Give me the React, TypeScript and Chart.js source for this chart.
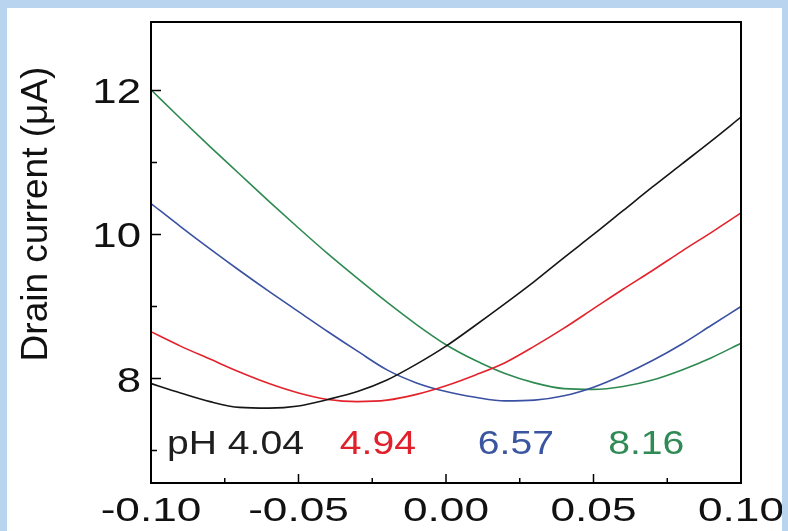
import React, { useEffect, useRef } from "react";
import { Chart, registerables } from "chart.js";

Chart.register(...registerables);

// Gate voltage sweep (V)
const gateVoltage = [
  -0.1, -0.09, -0.08, -0.07, -0.06, -0.05, -0.04, -0.03, -0.02, -0.01, 0.0,
  0.01, 0.02, 0.03, 0.04, 0.05, 0.06, 0.07, 0.08, 0.09, 0.1,
];

// Drain current (µA) for each buffer pH
const currentPH404 = [
  7.93, 7.8, 7.68, 7.6, 7.59, 7.62, 7.71, 7.82, 7.98, 8.2, 8.45,
  8.74, 9.04, 9.35, 9.68, 10.0, 10.33, 10.66, 10.98, 11.3, 11.63,
];
const currentPH494 = [
  8.65, 8.45, 8.27, 8.09, 7.93, 7.8, 7.71, 7.68, 7.7, 7.78, 7.9,
  8.05, 8.22, 8.45, 8.7, 8.97, 9.24, 9.5, 9.77, 10.03, 10.3,
];
const currentPH657 = [
  10.43, 10.11, 9.8, 9.5, 9.21, 8.93, 8.65, 8.38, 8.12, 7.94, 7.82,
  7.74, 7.69, 7.7, 7.76, 7.88, 8.05, 8.25, 8.48, 8.74, 9.0,
];
const currentPH816 = [
  12.01, 11.61, 11.22, 10.84, 10.46, 10.09, 9.73, 9.39, 9.06, 8.75, 8.47,
  8.25, 8.07, 7.94, 7.86, 7.85, 7.89, 7.98, 8.12, 8.29, 8.49,
];

const phLabels = ["pH 4.04", "4.94", "6.57", "8.16"];

const xMajorTicks = [-0.1, -0.05, 0, 0.05, 0.1];
const xTickLabels = ["-0.10", "-0.05", "0.00", "0.05", "0.10"];
const xMinorTicks = [-0.075, -0.025, 0.025, 0.075];
const yMajorTicks = [8, 10, 12];
const yTickLabels = ["8", "10", "12"];
const yMinorTicks = [7, 9, 11];

const yTitle = "Drain current (μA)";

const lineColors = ["#161616", "#e3222c", "#3a50a2", "#2e8a50"];
const labelColors = ["#1e1e1e", "#e0202a", "#3b56a0", "#2f8a55"];

const FONT = "'Liberation Sans', Arial, sans-serif";

function stretchedText(
  ctx: CanvasRenderingContext2D,
  text: string,
  x: number,
  y: number,
  size: number,
  sx: number,
  align: CanvasTextAlign,
  color: string
) {
  ctx.save();
  ctx.translate(x, y);
  ctx.scale(sx, 1);
  ctx.font = `${size}px ${FONT}`;
  ctx.textAlign = align;
  ctx.textBaseline = "alphabetic";
  ctx.fillStyle = color;
  ctx.fillText(text, 0, 0);
  ctx.restore();
}

// Frame, inward ticks, tick labels, axis title and pH annotations
const frameAndLabels = {
  id: "frameAndLabels",
  afterDraw(chart: any) {
    const { ctx, chartArea: a } = chart;
    const xs = chart.scales.x;
    const ys = chart.scales.y;
    ctx.save();

    ctx.strokeStyle = "#000";
    ctx.lineWidth = 2;
    ctx.strokeRect(a.left, a.top, a.right - a.left, a.bottom - a.top);

    ctx.lineWidth = 1.5;
    ctx.beginPath();
    xMajorTicks.forEach((v) => {
      const px = xs.getPixelForValue(v);
      ctx.moveTo(px, a.bottom);
      ctx.lineTo(px, a.bottom - 9);
    });
    xMinorTicks.forEach((v) => {
      const px = xs.getPixelForValue(v);
      ctx.moveTo(px, a.bottom);
      ctx.lineTo(px, a.bottom - 5);
    });
    yMajorTicks.forEach((v) => {
      const py = ys.getPixelForValue(v);
      ctx.moveTo(a.left, py);
      ctx.lineTo(a.left + 10, py);
    });
    yMinorTicks.forEach((v) => {
      const py = ys.getPixelForValue(v);
      ctx.moveTo(a.left, py);
      ctx.lineTo(a.left + 6, py);
    });
    ctx.stroke();

    xMajorTicks.forEach((v, i) => {
      stretchedText(ctx, xTickLabels[i], xs.getPixelForValue(v), a.bottom + 38, 34, 1.3, "center", "#111");
    });
    yMajorTicks.forEach((v, i) => {
      stretchedText(ctx, yTickLabels[i], a.left - 10, ys.getPixelForValue(v) + 13, 35, 1.25, "right", "#111");
    });

    // rotated y-axis title
    ctx.save();
    ctx.translate(40, 206);
    ctx.rotate(-Math.PI / 2);
    ctx.font = `37px ${FONT}`;
    ctx.textAlign = "center";
    ctx.textBaseline = "alphabetic";
    ctx.fillStyle = "#111";
    ctx.fillText(yTitle, 0, 0);
    ctx.restore();

    // pH annotations along the bottom of the plot
    const labelX = [-0.0946, -0.036, 0.0108, 0.055];
    const labelY = ys.getPixelForValue(6.95);
    phLabels.forEach((t, i) => {
      stretchedText(ctx, t, xs.getPixelForValue(labelX[i]), labelY, 34, 1.15, "left", labelColors[i]);
    });

    ctx.restore();
  },
};

export default function App() {
  const canvasRef = useRef<HTMLCanvasElement | null>(null);

  useEffect(() => {
    const canvas = canvasRef.current;
    if (!canvas) return;
    const series = [currentPH404, currentPH494, currentPH657, currentPH816];
    const chart = new Chart(canvas, {
      type: "line",
      data: {
        datasets: series.map((vals, i) => ({
          label: phLabels[i],
          data: gateVoltage.map((g, k) => ({ x: g, y: vals[k] })),
          borderColor: lineColors[i],
          borderWidth: 1.6,
          pointRadius: 0,
          fill: false,
          cubicInterpolationMode: "monotone" as const,
        })),
      },
      options: {
        responsive: false,
        animation: false,
        events: [],
        layout: { padding: { left: 144, right: 41, top: 14, bottom: 48 } },
        plugins: { legend: { display: false }, tooltip: { enabled: false } },
        scales: {
          x: { type: "linear", min: -0.1, max: 0.1, display: false },
          y: { type: "linear", min: 6.55, max: 12.95, display: false },
        },
      },
      plugins: [frameAndLabels],
    });
    return () => chart.destroy();
  }, []);

  return (
    <div
      style={{
        position: "fixed",
        left: 0,
        top: 0,
        width: 788,
        height: 531,
        background: "#b9d4ee",
        overflow: "hidden",
      }}
    >
      <div
        style={{
          position: "absolute",
          left: 7,
          top: 8,
          width: 775,
          height: 523,
          background: "#ffffff",
        }}
      >
        <canvas ref={canvasRef} width={775} height={523} style={{ display: "block" }} />
      </div>
    </div>
  );
}
